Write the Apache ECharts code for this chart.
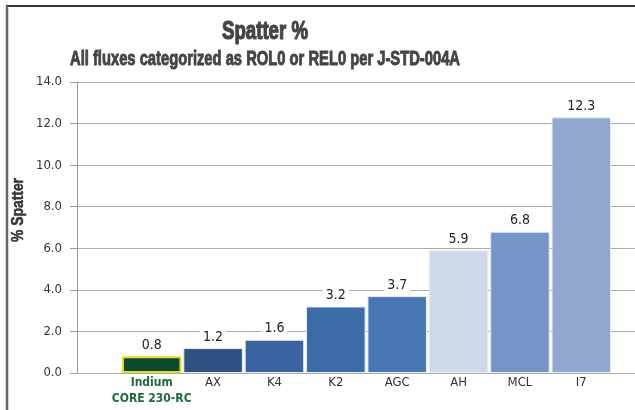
<!DOCTYPE html>
<html><head><meta charset="utf-8">
<script src="https://cdn.jsdelivr.net/npm/echarts@6/dist/echarts.min.js"></script>
<style>html,body{margin:0;padding:0;background:#fff}#c{width:635px;height:410px}</style>
</head><body><div id="c"></div>
<script>
const categories = ['Indium\nCORE 230-RC','AX','K4','K2','AGC','AH','MCL','I7'];
const values = [0.8, 1.2, 1.6, 3.2, 3.7, 5.9, 6.8, 12.3];
const barColors = ['#0b4a2f','#2e5282','#3a63a0','#3c6ca8','#4778b4','#cfd8e8','#7596c6','#93a8d0'];
const titleText = 'Spatter %';
const subtitleText = 'All fluxes categorized as ROL0 or REL0 per J-STD-004A';
const yName = '% Spatter';
const FONT = "'DejaVu Sans Condensed','Liberation Sans',sans-serif";
const TFONT = "Liberation Sans";
function fitScale(text, size, target){
  const c = document.createElement('canvas').getContext('2d');
  c.font = 'bold ' + size + 'px "' + TFONT + '"'; return target / c.measureText(text).width;
}
function tstyle(text, size, fill, sw){
  return {text:text,fontFamily:TFONT,fontSize:size,fontWeight:'bold',fill:fill,stroke:fill,lineWidth:sw,align:'center',verticalAlign:'middle'};
}
const chart = echarts.init(document.getElementById('c'));
const gTop = 82, gBottom = 37;
chart.setOption({
  animation:false,
  graphic:[
    {type:'line',shape:{x1:6,y1:6,x2:635,y2:6},style:{stroke:'#333',lineWidth:2}},
    {type:'line',shape:{x1:7,y1:6,x2:7,y2:410},style:{stroke:'#666',lineWidth:2.5}},
    {type:'text',x:265,y:32,scaleX:fitScale(titleText,25,86),style:tstyle(titleText,25,'#444',1.2)},
    {type:'text',x:265,y:59,scaleX:fitScale(subtitleText,20,390),style:tstyle(subtitleText,20,'#444',0.9)},
    {type:'text',x:19,y:210,rotation:Math.PI/2,scaleX:fitScale(yName,16,64),style:tstyle(yName,16,'#333',0.5)}
  ],
  grid:[
    {left:77,right:0,top:gTop,bottom:gBottom},
    {left:121,width:491,top:gTop,bottom:gBottom}
  ],
  xAxis:[
    {gridIndex:0,type:'value',min:0,max:1,show:false},
    {gridIndex:1,type:'category',data:categories,axisLine:{show:false},axisTick:{show:false},
     axisLabel:{interval:0,fontFamily:FONT,fontSize:13,color:'#333',margin:2,lineHeight:16,
       formatter:function(v,i){return i===0?'{g|'+v.replace('\n','}\n{g|')+'}':v;},
       rich:{g:{fontFamily:FONT,fontSize:12,color:'#1f6a3e',lineHeight:16,fontWeight:'bold'}}}}
  ],
  yAxis:[
    {gridIndex:0,type:'value',min:0,max:14,interval:2,
     axisLine:{show:true,lineStyle:{color:'#999'}},
     axisTick:{show:true,length:7,lineStyle:{color:'#999'}},
     axisLabel:{fontFamily:FONT,fontSize:13,color:'#333',margin:15,formatter:v=>v.toFixed(1)},
     splitLine:{show:true,lineStyle:{color:'#aaa',width:1}}},
    {gridIndex:1,type:'value',min:0,max:14,interval:2,show:false}
  ],
  series:[{
    type:'bar',xAxisIndex:1,yAxisIndex:1,barCategoryGap:'3%',
    data:values.map((v,i)=>({value:v,itemStyle:i===0?{color:barColors[i],borderColor:'#e6e020',borderWidth:2}:{color:barColors[i],borderColor:'#e8ecf3',borderWidth:1}})),
    label:{show:true,position:'top',distance:4,fontFamily:FONT,fontSize:14,color:'#222',
      backgroundColor:'#fff',padding:[0,3],formatter:p=>p.value.toFixed(1)}
  }]
});
</script></body></html>
